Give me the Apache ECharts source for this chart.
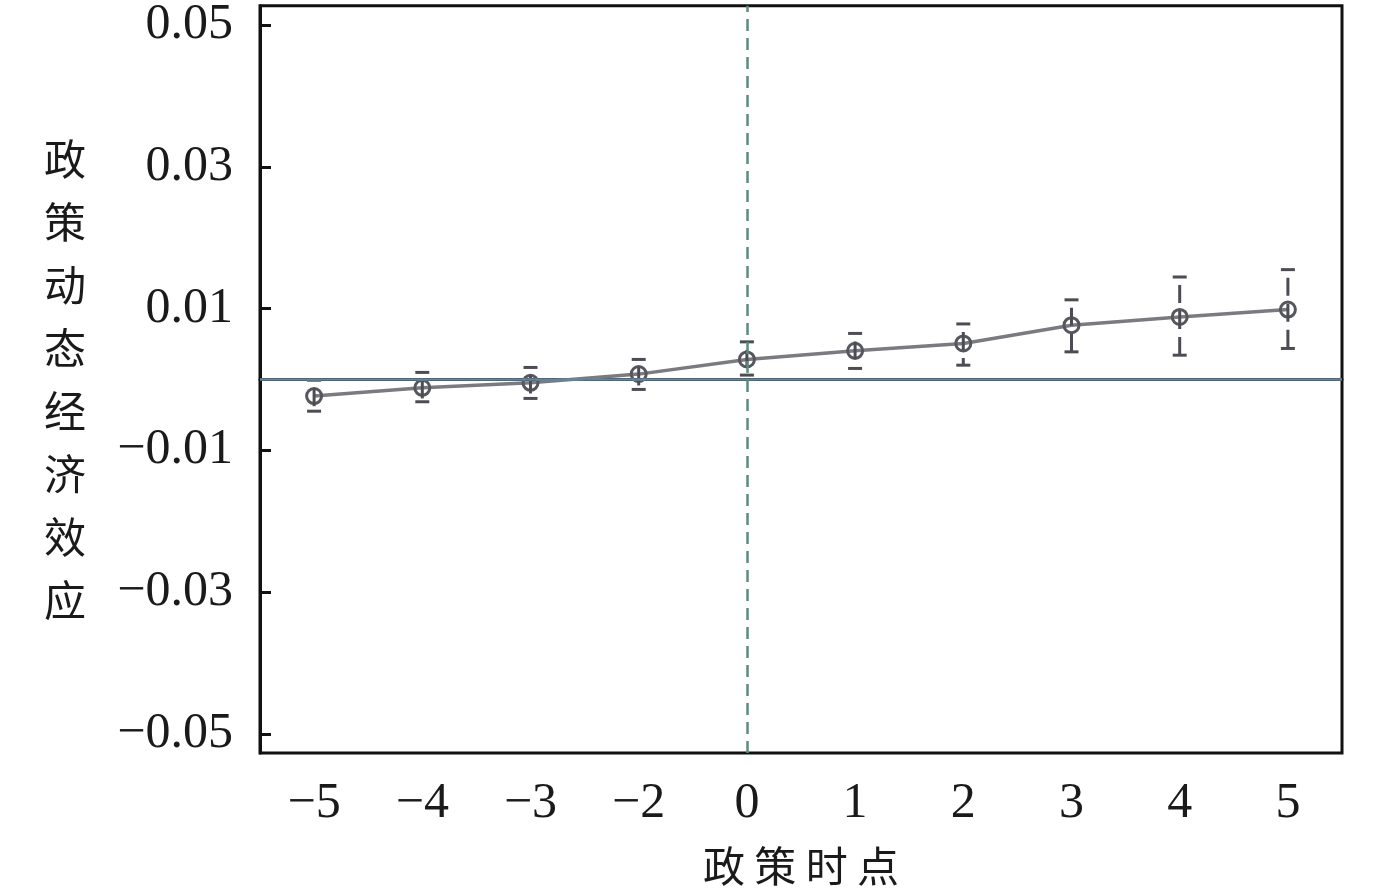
<!DOCTYPE html>
<html>
<head>
<meta charset="utf-8">
<script src="https://cdn.jsdelivr.net/npm/echarts@6/dist/echarts.min.js"></script>
<style>
  html, body { margin: 0; padding: 0; background: #fff; }
  #chart { width: 1378px; height: 896px; }
</style>
</head>
<body>
<div id="chart"></div>
<script>
// 政策时点（无 -1 期）
var categories = ['\u22125', '\u22124', '\u22123', '\u22122', '0', '1', '2', '3', '4', '5'];
// 点估计
var estimates = [-0.00235, -0.00118, -0.00048, 0.00075, 0.00282, 0.00404, 0.00508, 0.00765, 0.00882, 0.00986];
// 置信区间
var lower = [-0.00448, -0.00315, -0.00268, -0.00141, 0.00061, 0.00155, 0.00201, 0.00389, 0.00342, 0.00437];
var upper = [-0.00011, 0.00099, 0.00169, 0.00282, 0.0053, 0.00649, 0.00783, 0.01123, 0.01445, 0.01549];
var yTicks = [-0.05, -0.03, -0.01, 0.01, 0.03, 0.05];

var chart = echarts.init(document.getElementById('chart'));

var serif = 'Liberation Serif';
var cjk = 'Noto Sans CJK SC';

function fmt(v) {
  var s = (Math.round(v * 100) / 100).toFixed(2);
  return s.replace('-', '\u2212');
}

var errData = [];
for (var i = 0; i < categories.length; i++) {
  errData.push([i, lower[i], upper[i]]);
}

var option = {
  animation: false,
  grid: {
    left: 260, right: 36, top: 5, bottom: 143,
    show: true, borderColor: '#111', borderWidth: 3
  },
  xAxis: {
    type: 'category',
    data: categories,
    name: '政 策 时 点',
    nameLocation: 'middle',
    nameGap: 92,
    nameTextStyle: { fontFamily: cjk, fontSize: 42, color: '#1a1a1a' },
    axisLine: { lineStyle: { color: '#111', width: 3 } },
    axisTick: { inside: true, alignWithLabel: true, length: 11, lineStyle: { color: '#111', width: 3 } },
    axisLabel: { fontFamily: serif, fontSize: 50, color: '#1a1a1a', margin: 26 },
    splitLine: { show: false }
  },
  yAxis: {
    type: 'value',
    min: -0.0527,
    max: 0.0527,
    name: '政\n策\n动\n态\n经\n济\n效\n应',
    nameLocation: 'middle',
    nameRotate: 0,
    nameGap: 174,
    nameTextStyle: { fontFamily: cjk, fontSize: 42, lineHeight: 63, color: '#1a1a1a' },
    axisLine: { show: true, lineStyle: { color: '#111', width: 3 } },
    axisTick: { show: true, inside: true, length: 11, customValues: yTicks, lineStyle: { color: '#111', width: 3 } },
    axisLabel: { fontFamily: serif, fontSize: 50, color: '#1a1a1a', margin: 27, customValues: yTicks, formatter: fmt },
    splitLine: { show: false }
  },
  series: [
    {
      type: 'line',
      data: estimates,
      z: 3,
      symbol: 'circle',
      symbolSize: 15,
      lineStyle: { color: '#7a7a80', width: 3.5 },
      itemStyle: { color: 'rgba(0,0,0,0)', borderColor: '#56575e', borderWidth: 3 },
      markLine: {
        silent: true,
        symbol: 'none',
        label: { show: false },
        data: [
          { yAxis: 0, lineStyle: { color: '#67849a', width: 2.5, type: 'solid' } },
          { xAxis: '0', lineStyle: { color: '#5f8a7c', width: 2.5, type: [12, 7] } }
        ]
      }
    },
    {
      type: 'custom',
      z: 4,
      data: errData,
      renderItem: function (params, api) {
        var idx = api.value(0);
        var lo = api.coord([idx, api.value(1)]);
        var hi = api.coord([idx, api.value(2)]);
        var hw = 7;
        var st = { stroke: '#4c4d54', lineWidth: 3 };
        return {
          type: 'group',
          children: [
            { type: 'line', shape: { x1: hi[0], y1: hi[1], x2: lo[0], y2: lo[1] },
              style: { stroke: '#4c4d54', lineWidth: 3, lineDash: [18, 8], lineDashOffset: 18 } },
            { type: 'line', shape: { x1: hi[0] - hw, y1: hi[1], x2: hi[0] + hw, y2: hi[1] }, style: st },
            { type: 'line', shape: { x1: lo[0] - hw, y1: lo[1], x2: lo[0] + hw, y2: lo[1] }, style: st }
          ]
        };
      }
    }
  ]
};

chart.setOption(option);
</script>
</body>
</html>
